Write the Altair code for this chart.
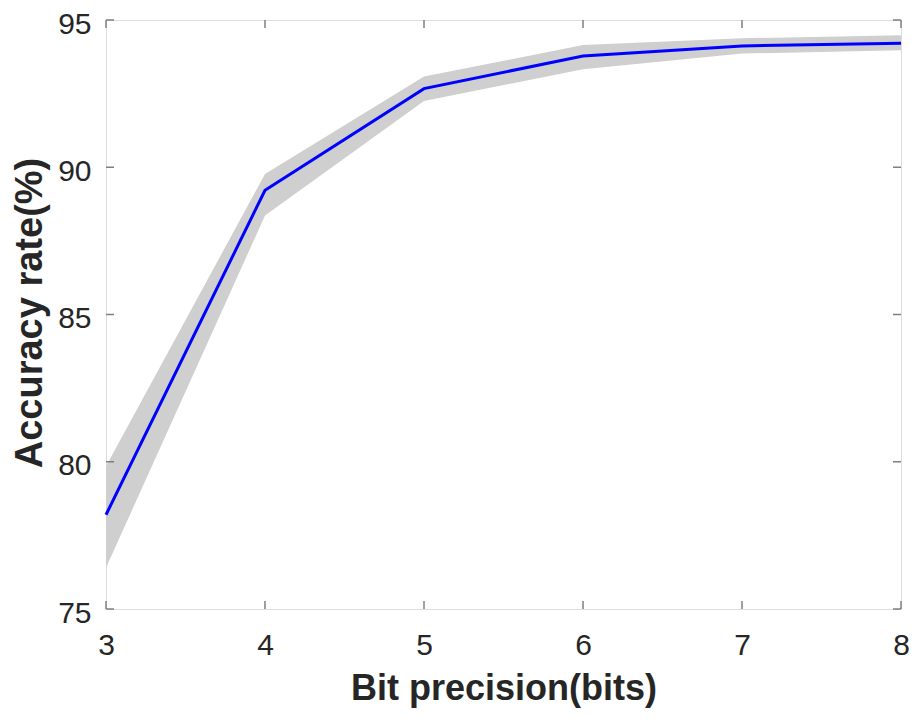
import altair as alt
import pandas as pd

bits = [3, 4, 5, 6, 7, 8]
acc_mean = [78.2, 89.22, 92.67, 93.78, 94.12, 94.21]
acc_upper = [79.85, 89.77, 93.08, 94.15, 94.38, 94.48]
acc_lower = [76.4, 88.36, 92.25, 93.33, 93.86, 93.97]
x_ticks = [3, 4, 5, 6, 7, 8]
y_ticks = [75, 80, 85, 90, 95]

W, H = 795, 589
TICK = 8
BOX = "#7f7f7f"
TXT = "#262626"
FONT = "Liberation Sans"

df = pd.DataFrame({"bits": bits, "mean": acc_mean, "upper": acc_upper, "lower": acc_lower})
xt = pd.DataFrame({"t": x_ticks})
yt = pd.DataFrame({"v": y_ticks})

xscale = alt.Scale(domain=[3, 8], nice=False, zero=False)
yscale = alt.Scale(domain=[75, 95], nice=False, zero=False)

xaxis = alt.Axis(
    values=x_ticks, format="d", grid=False, domain=False, ticks=False, tickSize=0,
    labelFlush=False, labelOverlap=False,
    labelFontSize=30, labelPadding=21, labelFont=FONT, labelColor=TXT,
    title="Bit precision(bits)", titleFont=FONT, titleFontSize=36, titleFontWeight="bold",
    titleColor=TXT, titleX=W / 2, titleY=79, titleBaseline="middle", titleAlign="center",
)
yaxis = alt.Axis(
    values=y_ticks, format="d", grid=False, domain=False, ticks=False, tickSize=0,
    labelFlush=False, labelOverlap=False, labelOffset=4,
    labelFontSize=30, labelPadding=15, labelFont=FONT, labelColor=TXT,
    title="Accuracy rate(%)", titleFont=FONT, titleFontSize=38, titleFontWeight="bold",
    titleColor=TXT, titleX=-76, titleY=H / 2 - 2, titleBaseline="middle", titleAlign="center",
    titleAngle=270,
)

band = alt.Chart(df).mark_area(color="#cfcfcf", opacity=1).encode(
    x=alt.X("bits:Q", scale=xscale, axis=xaxis),
    y=alt.Y("lower:Q", scale=yscale, axis=yaxis),
    y2="upper:Q",
)
line = alt.Chart(df).mark_line(color="#0000ff", strokeWidth=3).encode(
    x=alt.X("bits:Q", scale=xscale),
    y=alt.Y("mean:Q", scale=yscale),
)

tick_style = dict(color=BOX, strokeWidth=1.5)
bottom = alt.Chart(xt).mark_rule(**tick_style).encode(
    x=alt.X("t:Q", scale=xscale), y=alt.value(H), y2=alt.value(H - TICK))
top = alt.Chart(xt).mark_rule(**tick_style).encode(
    x=alt.X("t:Q", scale=xscale), y=alt.value(0), y2=alt.value(TICK))
left = alt.Chart(yt).mark_rule(**tick_style).encode(
    y=alt.Y("v:Q", scale=yscale), x=alt.value(0), x2=alt.value(TICK))
right = alt.Chart(yt).mark_rule(**tick_style).encode(
    y=alt.Y("v:Q", scale=yscale), x=alt.value(W), x2=alt.value(W - TICK))

chart = alt.layer(band, line, bottom, top, left, right).properties(
    width=W, height=H,
    autosize=alt.AutoSizeParams(type="none"),
    padding={"left": 98, "top": 12, "right": 8, "bottom": 102},
).configure_view(stroke=BOX, strokeWidth=1.5).configure(background="white")

chart.save("out.html", embed_options={"renderer": "svg", "actions": False})
